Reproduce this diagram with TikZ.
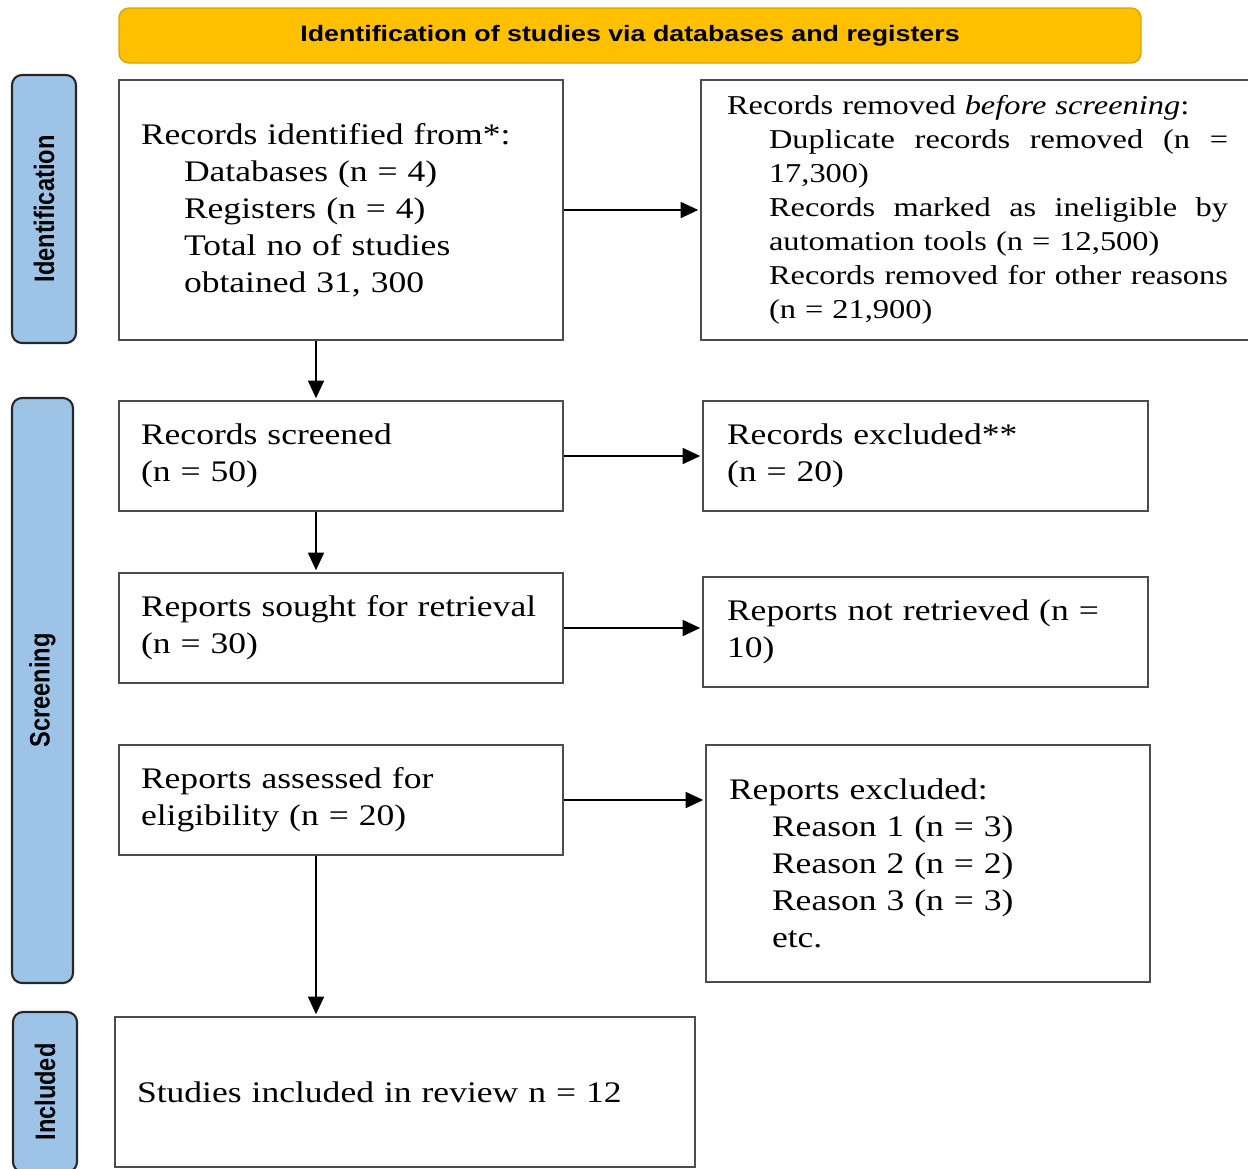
\documentclass[tikz,border=0pt]{standalone}
\usepackage{fontspec}
\setmainfont{Liberation Serif}[FakeStretch=1.19]
\newfontfamily\headfont{Liberation Sans}[FakeStretch=1.2]
\newfontfamily\sidefont{Liberation Sans}[FakeStretch=0.84]
\usetikzlibrary{arrows.meta}

\definecolor{headyellow}{HTML}{FFC000}
\definecolor{headedge}{HTML}{D9A400}
\definecolor{sideblue}{HTML}{9DC3E6}

% justified line of the removal box
\newcommand{\jline}[1]{\makebox[9.18cm][s]{\spaceskip=0pt\relax #1}}

\begin{document}
\begin{tikzpicture}[
    stagebox/.style={draw=black!70, line width=1.1pt, fill=white, align=left,
        inner xsep=0.44cm, inner ysep=0pt,
        font=\fontsize{17}{21}\selectfont},
    sidebox/.style={draw=black!85, line width=1.2pt, fill=sideblue,
        rounded corners=0.2cm, rotate=90, inner sep=0pt,
        font=\sidefont\bfseries\fontsize{16}{16}\selectfont},
    headbox/.style={draw=headedge, line width=0.8pt, fill=headyellow,
        rounded corners=0.2cm, inner sep=0pt,
        font=\headfont\bfseries\fontsize{12.7}{14}\selectfont},
    arr/.style={-{Triangle[length=10pt,width=9pt]}, line width=1.3pt, shorten >=1pt}
  ]
  \useasboundingbox (0,0) rectangle (24.96,-23.38);

  % Header
  \node[headbox, minimum width=20.44cm, minimum height=1.1cm] (head) at (12.6,-0.71)
    {Identification of studies via databases and registers};

  % Side labels
  \node[sidebox, minimum width=5.36cm, minimum height=1.28cm] (sideid) at (0.88,-4.18) {Identification};
  \node[sidebox, minimum width=11.7cm, minimum height=1.22cm] (sidescr) at (0.85,-13.81) {Screening};
  \node[sidebox, minimum width=3.2cm, minimum height=1.28cm] (sideinc) at (0.9,-21.84) {Included};

  % Left column
  \node[stagebox, minimum width=8.88cm, minimum height=5.2cm, text width=8.0cm] (ident) at (6.82,-4.2)
    {Records identified from*:\\
     \hspace*{0.86cm}Databases (n = 4)\\
     \hspace*{0.86cm}Registers (n = 4)\\
     \hspace*{0.86cm}Total no of studies\\
     \hspace*{0.86cm}obtained 31, 300};
  \node[stagebox, minimum width=8.88cm, minimum height=2.2cm, text width=8.0cm] (screened) at (6.82,-9.12)
    {Records screened\\(n = 50)};
  \node[stagebox, minimum width=8.88cm, minimum height=2.2cm, text width=8.0cm] (sought) at (6.82,-12.56)
    {Reports sought for retrieval\\(n = 30)};
  \node[stagebox, minimum width=8.88cm, minimum height=2.2cm, text width=8.0cm] (assessed) at (6.82,-16.0)
    {Reports assessed for\\eligibility (n = 20)};
  \node[stagebox, minimum width=11.6cm, minimum height=3.0cm, text width=10.72cm] (included) at (8.1,-21.84)
    {Studies included in review n = 12};

  % Right column
  \node[stagebox, inner xsep=0.52cm, minimum width=11.1cm, minimum height=5.2cm, text width=10.06cm,
        font=\fontsize{15.5}{19.3}\selectfont] (removed) at (19.57,-4.2)
    {Records removed \textit{before screening}:\\
     \hspace*{0.84cm}\jline{Duplicate records removed (n =}\\
     \hspace*{0.84cm}17,300)\\
     \hspace*{0.84cm}\jline{Records marked as ineligible by}\\
     \hspace*{0.84cm}automation tools (n = 12,500)\\
     \hspace*{0.84cm}\jline{Records removed for other reasons}\\
     \hspace*{0.84cm}(n = 21,900)};
  \node[stagebox, inner xsep=0.48cm, minimum width=8.9cm, minimum height=2.2cm, text width=7.94cm] (excluded) at (18.51,-9.12)
    {Records excluded**\\(n = 20)};
  \node[stagebox, inner xsep=0.48cm, minimum width=8.9cm, minimum height=2.2cm, text width=7.94cm] (notretr) at (18.51,-12.64)
    {Reports not retrieved (n =\\10)};
  \node[stagebox, inner xsep=0.46cm, minimum width=8.88cm, minimum height=4.74cm, text width=7.96cm] (repexcl) at (18.56,-17.27)
    {Reports excluded:\\
     \hspace*{0.86cm}Reason 1 (n = 3)\\
     \hspace*{0.86cm}Reason 2 (n = 2)\\
     \hspace*{0.86cm}Reason 3 (n = 3)\\
     \hspace*{0.86cm}etc.};

  % Arrows
  \draw[arr] (ident.east) -- (ident.east -| removed.west);
  \draw[arr] ([xshift=-0.5cm]ident.south) -- ([xshift=-0.5cm]screened.north);
  \draw[arr] (screened.east) -- (excluded.west);
  \draw[arr] ([xshift=-0.5cm]screened.south) -- ([xshift=-0.5cm]sought.north);
  \draw[arr] (sought.east) -- (sought.east -| notretr.west);
  \draw[arr] (assessed.east) -- (assessed.east -| repexcl.west);
  \draw[arr] ([xshift=-0.5cm]assessed.south) -- ([xshift=-0.5cm]assessed.south |- included.north);
\end{tikzpicture}
\end{document}
